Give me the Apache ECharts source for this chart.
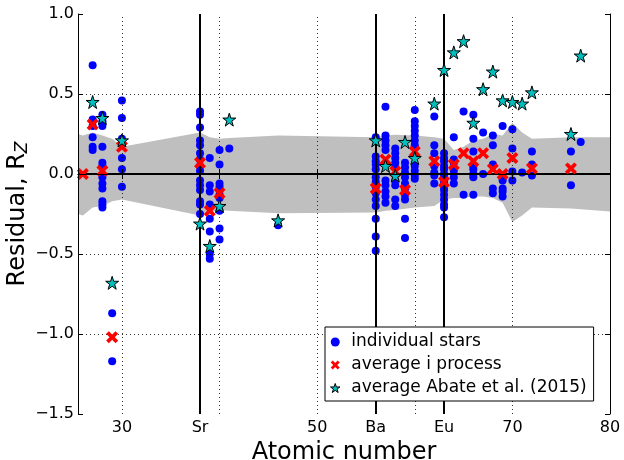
<!DOCTYPE html>
<html><head><meta charset="utf-8">
<script src="https://cdn.jsdelivr.net/npm/echarts@6/dist/echarts.min.js"></script>
<style>html,body{margin:0;padding:0;background:#fff}#c{width:624px;height:460px}</style>
</head><body><div id="c"></div>
<script>
// ---- tick labels / reference lines ----
const xTickValues = [30, 38, 50, 56, 63, 70, 80];
const xTickLabels = ['30', 'Sr', '50', 'Ba', 'Eu', '70', '80'];
const xMajorTicks = [30, 40, 50, 60, 70, 80];
const xGridLines = [30, 40, 50, 60, 70];
const yGridLines = [-1.0, -0.5, 0.5];
const elementLines = [38, 56, 63];

// ---- individual stars: [Z, residuals] ----
const individualStars = [
  [27, [0.68, 0.34, 0.30, 0.23, 0.17, 0.15]],
  [28, [0.37, 0.33, 0.30, 0.17, 0.07, 0.05, -0.02, -0.06, -0.09, -0.17, -0.19, -0.21]],
  [29, [-0.87, -1.17]],
  [30, [0.46, 0.35, 0.22, 0.10, 0.03, -0.08]],
  [38, [0.39, 0.37, 0.29, 0.21, 0.18, 0.13, 0.09, 0.05, 0.02, -0.04, -0.07, -0.10, -0.17, -0.19, -0.25]],
  [39, [0.10, -0.07, -0.11, -0.19, -0.28, -0.36, -0.50, -0.53]],
  [40, [0.15, 0.06, -0.06, -0.08, -0.13, -0.15, -0.23, -0.34, -0.41]],
  [41, [0.16]],
  [46, [-0.32]],
  [56, [0.23, 0.11, 0.08, 0.06, 0.03, -0.02, -0.05, -0.08, -0.12, -0.16, -0.20, -0.28, -0.39, -0.48]],
  [57, [0.42, 0.24, 0.21, 0.18, 0.15, -0.04, -0.07, -0.11, -0.14, -0.18]],
  [58, [0.16, 0.13, 0.10, 0.07, 0.04, -0.04, -0.07, -0.16, -0.20]],
  [59, [0.07, 0.04, 0.01, -0.02, -0.06, -0.09, -0.13, -0.16, -0.28, -0.40]],
  [60, [0.40, 0.33, 0.30, 0.27, 0.24, 0.21, 0.18, 0.05, 0.02, -0.01, -0.03]],
  [62, [0.36, 0.18, 0.13, 0.05, 0.01, -0.01, -0.06]],
  [63, [0.13, 0.10, 0.08, 0.05, 0.03, 0.0, -0.02, -0.05, -0.08, -0.10, -0.13, -0.16, -0.19, -0.21, -0.27]],
  [64, [0.23, 0.09, 0.07, 0.02, -0.02, -0.06]],
  [65, [0.39, -0.13]],
  [66, [0.37, 0.22, 0.14, 0.05, 0.03, 0.0, -0.02, -0.13]],
  [67, [0.26, 0.0]],
  [68, [0.24, 0.18, 0.06, -0.09, -0.12]],
  [69, [0.30, -0.04, -0.09, -0.11, -0.14]],
  [70, [0.28, 0.16, 0.015, -0.04]],
  [71, [0.01]],
  [72, [0.14, 0.06, -0.01]],
  [76, [0.14, -0.07]],
  [77, [0.20]]
];

// ---- average i process ----
const iProcessZ = [26, 27, 28, 29, 30, 38, 39, 40, 56, 57, 58, 59, 60, 62, 63, 64, 65, 66, 67, 68, 69, 70, 72, 76];
const iProcessR = [0.0, 0.31, 0.02, -1.02, 0.17, 0.07, -0.23, -0.12, -0.09, 0.09, 0.015, -0.10, 0.14, 0.08, -0.05, 0.06, 0.13, 0.08, 0.13, 0.03, 0.0, 0.10, 0.035, 0.035];

// ---- average Abate et al. (2015) ----
const abateZ = [27, 28, 29, 30, 38, 39, 40, 41, 46, 56, 57, 58, 59, 60, 62, 63, 64, 65, 66, 67, 68, 69, 70, 71, 72, 76, 77];
const abateR = [0.45, 0.35, -0.68, 0.21, -0.31, -0.45, -0.20, 0.34, -0.29, 0.21, 0.05, -0.01, 0.20, 0.10, 0.44, 0.65, 0.76, 0.83, 0.32, 0.53, 0.64, 0.46, 0.45, 0.44, 0.51, 0.25, 0.74];

// ---- grey uncertainty band ----
const bandZ     = [25.5, 26, 27, 28, 29, 30, 38, 39, 40, 41, 46, 56, 57, 58, 60, 62, 63, 64, 65, 66, 67, 68, 69, 70, 71, 72, 76, 77, 80];
const bandUpper = [0.25, 0.24, 0.26, 0.24, 0.22, 0.17, 0.26, 0.23, 0.22, 0.225, 0.24, 0.23, 0.24, 0.245, 0.24, 0.23, 0.22, 0.15, 0.17, 0.21, 0.22, 0.25, 0.24, 0.32, 0.26, 0.22, 0.23, 0.23, 0.23];
const bandLower = [-0.25, -0.26, -0.21, -0.20, -0.17, -0.16, -0.26, -0.24, -0.225, -0.23, -0.245, -0.24, -0.23, -0.225, -0.21, -0.20, -0.16, -0.15, -0.15, -0.14, -0.14, -0.15, -0.18, -0.30, -0.26, -0.21, -0.215, -0.22, -0.235];

const FONT = 'DejaVu Sans';

function starPath() {
  const pts = [];
  for (let i = 0; i < 10; i++) {
    const r = i % 2 === 0 ? 1 : 0.382;
    const a = -Math.PI / 2 + i * Math.PI / 5;
    pts.push((r * Math.cos(a)).toFixed(4) + ',' + (r * Math.sin(a)).toFixed(4));
  }
  return 'path://M' + pts.join('L') + 'Z';
}
const STAR = starPath();
const CROSS = 'path://M0,2.2L2.2,0L5,2.8L7.8,0L10,2.2L7.2,5L10,7.8L7.8,10L5,7.2L2.2,10L0,7.8L2.8,5Z';

const indivData = [];
individualStars.forEach(([z, vals]) => vals.forEach(v => indivData.push([z, v])));
const iData = iProcessZ.map((z, i) => [z, iProcessR[i]]);
const aData = abateZ.map((z, i) => [z, abateR[i]]);
const upData = bandZ.map((z, i) => [z, bandUpper[i]]);
const loData = bandZ.map((z, i) => [z, bandLower[i]]);

const XMIN = 25.5, XMAX = 80, YMIN = -1.5, YMAX = 1.0;
const fmtY = v => (v < 0 ? '\u2212' : '') + Math.abs(v).toFixed(1);

const starStyle = {color: '#00bfbf', borderColor: '#000', borderWidth: 1, opacity: 1};

const chart = echarts.init(document.getElementById('c'), null, {renderer: 'canvas'});
const dotted = {type: [1, 3], color: '#000', width: 0.8};
chart.setOption({
  animation: false,
  backgroundColor: '#fff',
  textStyle: {fontFamily: FONT},
  grid: {left: 78, right: 14, top: 14, bottom: 46, containLabel: false, outerBoundsMode: 'none'},
  xAxis: [{
    type: 'value', min: XMIN, max: XMAX, position: 'bottom', z: 10,
    name: 'Atomic number', nameLocation: 'middle', nameGap: 20,
    nameTextStyle: {fontSize: 24, color: '#000', fontFamily: FONT},
    axisLine: {show: true, lineStyle: {color: '#000', width: 1}},
    axisTick: {show: true, inside: true, length: 5, customValues: xMajorTicks, lineStyle: {color: '#000'}},
    axisLabel: {show: true, customValues: xTickValues, margin: 6, fontSize: 16, color: '#000', fontFamily: FONT,
      formatter: v => { const i = xTickValues.indexOf(v); return i >= 0 ? xTickLabels[i] : ''; }},
    splitLine: {show: false}
  }, {
    type: 'value', min: XMIN, max: XMAX, position: 'top', z: 10,
    axisLine: {show: true, lineStyle: {color: '#000', width: 1}},
    axisTick: {show: true, inside: true, length: 5, customValues: xMajorTicks, lineStyle: {color: '#000'}},
    axisLabel: {show: false}, splitLine: {show: false}
  }],
  yAxis: [{
    type: 'value', min: YMIN, max: YMAX, interval: 0.5, position: 'left', z: 10,
    name: 'Residual, R{s|Z}', nameLocation: 'middle', nameGap: 47, nameMoveOverlap: false,
    nameTextStyle: {fontSize: 24, color: '#000', fontFamily: FONT, lineHeight: 26,
      rich: {s: {fontSize: 17, fontStyle: 'italic', fontFamily: FONT, color: '#000', verticalAlign: 'bottom', lineHeight: 10}}},
    axisLine: {show: true, lineStyle: {color: '#000', width: 1}},
    axisTick: {show: true, inside: true, length: 5, lineStyle: {color: '#000'}},
    axisLabel: {show: true, margin: 4, fontSize: 16, color: '#000', fontFamily: FONT, formatter: fmtY},
    splitLine: {show: false}
  }, {
    type: 'value', min: YMIN, max: YMAX, interval: 0.5, position: 'right', z: 10,
    axisLine: {show: true, lineStyle: {color: '#000', width: 1}},
    axisTick: {show: true, inside: true, length: 5, lineStyle: {color: '#000'}},
    axisLabel: {show: false}, splitLine: {show: false}
  }],
  legend: {
    data: [
      {name: 'individual stars', itemStyle: {color: '#0000ff'}},
      {name: 'average i process', itemStyle: {color: '#ff0000'}},
      {name: 'average Abate et al. (2015)', itemStyle: starStyle}
    ],
    orient: 'vertical', left: 325, top: 327,
    padding: [5, 7, 3, 5], itemGap: 3, itemWidth: 22, itemHeight: 9,
    backgroundColor: '#fff', borderColor: '#000', borderWidth: 1, borderRadius: 0,
    textStyle: {fontSize: 17, color: '#000', fontFamily: FONT, lineHeight: 20},
    z: 20
  },
  series: [{
    name: 'bandUp', type: 'line', data: upData, symbol: 'none', z: 1, clip: true,
    lineStyle: {width: 0}, areaStyle: {color: '#bfbfbf', opacity: 1}, silent: true,
    markLine: {
      silent: true, symbol: 'none', label: {show: false}, animation: false,
      lineStyle: dotted,
      data: xGridLines.map(v => ({xAxis: v})).concat(yGridLines.map(v => ({yAxis: v})))
    }
  }, {
    name: 'bandLo', type: 'line', data: loData, symbol: 'none', z: 1, clip: true,
    lineStyle: {width: 0}, areaStyle: {color: '#bfbfbf', opacity: 1}, silent: true,
    markLine: {
      silent: true, symbol: 'none', label: {show: false}, animation: false,
      lineStyle: {type: 'solid', color: '#000', width: 2},
      data: elementLines.map(v => ({xAxis: v})).concat([{yAxis: 0}])
    }
  }, {
    name: 'individual stars', type: 'scatter', data: indivData, z: 2,
    symbol: 'circle', symbolSize: 8, itemStyle: {color: '#0000ff', opacity: 1}
  }, {
    name: 'average i process', type: 'scatter', data: iData, z: 6,
    symbol: CROSS, symbolSize: 12, itemStyle: {color: '#ff0000', opacity: 1}
  }, {
    name: 'average Abate et al. (2015)', type: 'scatter', data: aData, z: 7,
    symbol: STAR, symbolSize: 13, itemStyle: starStyle
  }]
});
</script>
</body></html>
